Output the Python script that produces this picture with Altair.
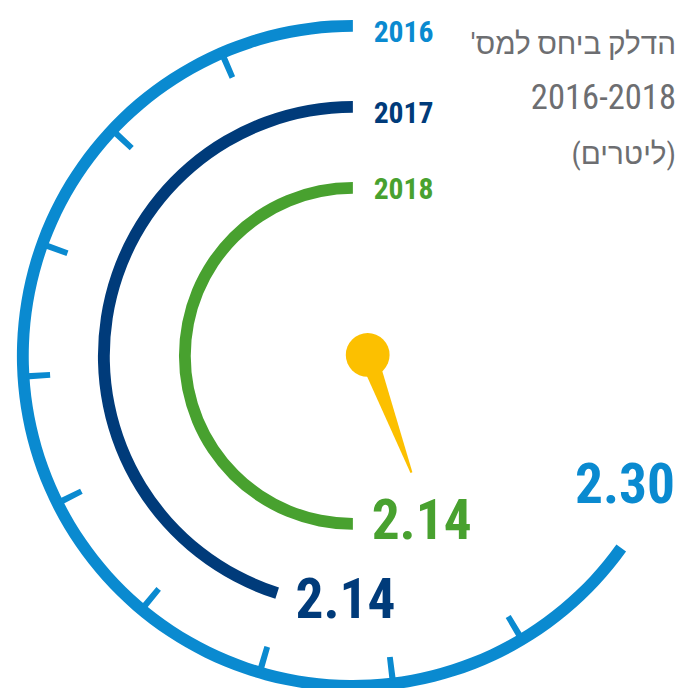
import math
import altair as alt
import pandas as pd

# ---- data ----
years = ["2016", "2017", "2018"]
values = [2.30, 2.14, 2.14]
value_labels = ["2.30", "2.14", "2.14"]
# clockwise angle (deg, 0 = 12 o'clock) where each arc ends; every arc runs from there back up to the top
arc_end_deg = [125.6, 197.7, 180.0]
gauge_ticks_deg = [336.6, 313.2, 289.8, 266.4, 243.5, 219.8, 196.4, 173.0, 149.2]
needle_deg = [339.6]
title_lines = ["\u200fהדלק ביחס למס'\u200f", "2016-2018", "\u200f(ליטרים)\u200f"]

# ---- styling / layout ----
colors = ["#0a8ad0", "#003b7a", "#48a12f"]
YELLOW = "#fcc000"
GREY = "#6d6e71"
FONT = "'Roboto Condensed', 'Liberation Sans', sans-serif"
W, H = 677, 680
CX, CY = 349, 348
radii = [334, 252, 170]
BAND = 12

theta_scale = alt.Scale(domain=[0, 360], range=[0, 2 * math.pi])

arc_df = pd.DataFrame({
    "year": years,
    "value": values,
    "start": arc_end_deg,
    "end": [360.0] * 3,
    "r_in": [r - BAND / 2 for r in radii],
    "r_out": [r + BAND / 2 for r in radii],
})

color_scale = alt.Scale(domain=years, range=colors)

arcs = alt.Chart(arc_df).mark_arc(opacity=1).encode(
    x=alt.value(CX), y=alt.value(CY),
    theta=alt.Theta("start:Q", scale=theta_scale, stack=False),
    theta2="end:Q",
    radius=alt.Radius("r_in:Q", scale=None),
    radius2="r_out:Q",
    color=alt.Color("year:N", scale=color_scale, legend=None),
)

tick_df = pd.DataFrame({"deg": gauge_ticks_deg})
ticks = alt.Chart(tick_df).transform_calculate(
    a0="datum.deg - 0.55", a1="datum.deg + 0.55"
).mark_arc(color=colors[0], opacity=1).encode(
    x=alt.value(CX), y=alt.value(CY),
    theta=alt.Theta("a0:Q", scale=theta_scale, stack=False),
    theta2="a1:Q",
    radius=alt.value(307),
    radius2=alt.value(331),
)

needle_df = pd.DataFrame({"deg": needle_deg})
needle = alt.Chart(needle_df).mark_point(
    shape="M -0.075 0 L 0.075 0 L 0.008 1 L -0.008 1 Z",
    filled=True, fill=YELLOW, strokeWidth=0, opacity=1, size=64500,
).encode(
    x=alt.value(364), y=alt.value(347),
    angle=alt.Angle("deg:Q", scale=None),
)
dot = alt.Chart(needle_df).mark_circle(color=YELLOW, opacity=1, size=1963).encode(
    x=alt.value(364), y=alt.value(347),
)

year_df = pd.DataFrame({"year": years, "px": [370, 370, 370], "py": [21, 103, 180.5]})
year_text = alt.Chart(year_df).mark_text(
    align="left", baseline="middle", font=FONT, fontSize=30, fontWeight="bold"
).encode(
    x=alt.X("px:Q", scale=None), y=alt.Y("py:Q", scale=None),
    text="year:N",
    color=alt.Color("year:N", scale=color_scale, legend=None),
)

val_df = pd.DataFrame({
    "year": years, "label": value_labels,
    "px": [675, 291, 368], "py": [479.5, 596.5, 516],
    "al": ["right", "left", "left"],
})
val_right = alt.Chart(val_df).transform_filter("datum.al == 'right'").mark_text(
    align="right", baseline="middle", font=FONT, fontSize=56, fontWeight="bold"
).encode(
    x=alt.X("px:Q", scale=None), y=alt.Y("py:Q", scale=None),
    text="label:N",
    color=alt.Color("year:N", scale=color_scale, legend=None),
)
val_left = alt.Chart(val_df).transform_filter("datum.al == 'left'").mark_text(
    align="left", baseline="middle", font=FONT, fontSize=56, fontWeight="bold"
).encode(
    x=alt.X("px:Q", scale=None), y=alt.Y("py:Q", scale=None),
    text="label:N",
    color=alt.Color("year:N", scale=color_scale, legend=None),
)

title_df = pd.DataFrame({
    "line": title_lines,
    "px": [676, 676, 676], "py": [42, 98, 154], "fs": [30, 35, 30],
})
title = alt.Chart(title_df).mark_text(
    align="right", baseline="alphabetic", font=FONT, color=GREY
).encode(
    x=alt.X("px:Q", scale=None), y=alt.Y("py:Q", scale=None),
    size=alt.Size("fs:Q", scale=None),
    text="line:N",
)

chart = alt.layer(arcs, ticks, needle, dot, year_text, val_right, val_left, title).properties(
    width=W, height=H, padding=0, autosize="none"
).configure_view(stroke=None)

chart.save("out.html", embed_options={"renderer": "svg", "actions": False})
